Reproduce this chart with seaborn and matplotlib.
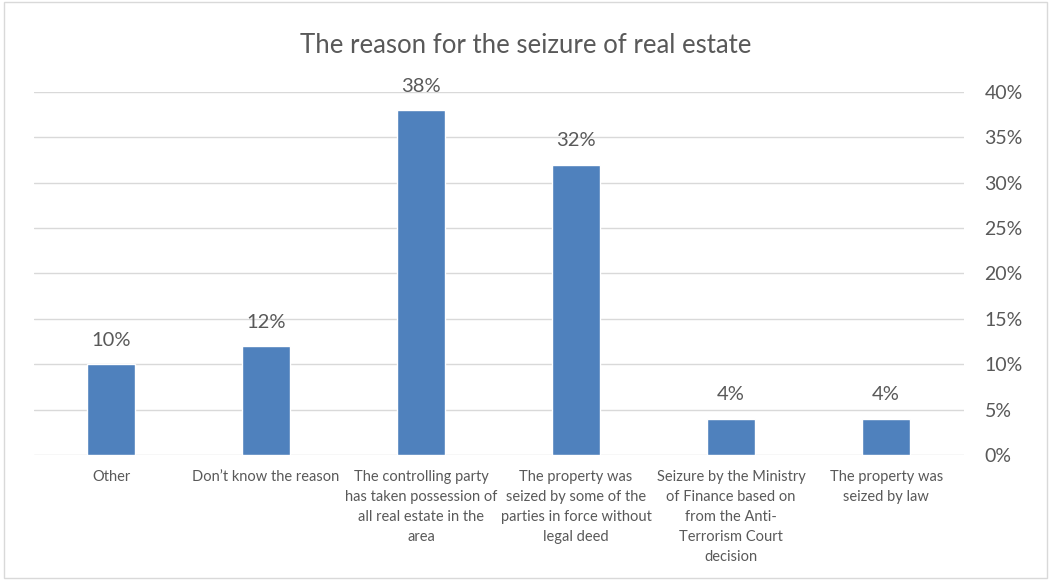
import matplotlib
matplotlib.use("Agg")
import matplotlib.pyplot as plt
import seaborn as sns
import pandas as pd
from matplotlib.patches import Rectangle

categories = [
    "Other",
    "Don\u2019t know the reason",
    "The controlling party\nhas taken possession of\nall real estate in the\narea",
    "The property was\nseized by some of the\nparties in force without\nlegal deed",
    "Seizure by the Ministry\nof Finance based on\nfrom the Anti-\nTerrorism Court\ndecision",
    "The property was\nseized by law",
]
values = [10, 12, 38, 32, 4, 4]
yticks = [0, 5, 10, 15, 20, 25, 30, 35, 40]
title = "The reason for the seizure of real estate"

df = pd.DataFrame({"category": categories, "value": values})

sns.set_theme(style="white")
plt.rcParams["font.family"] = ["Lato", "DejaVu Sans"]
text_color = "#595959"

fig = plt.figure(figsize=(10.51, 5.80), dpi=100)
ax = fig.add_axes([0.0319, 0.2155, 0.885, 0.626])

sns.barplot(data=df, x="category", y="value", color="#4F81BD",
            saturation=1, width=0.31, ax=ax, zorder=3)

ax.set_xlim(-0.5, len(categories) - 0.5)
ax.set_ylim(0, 40)
ax.set_yticks(yticks)
ax.set_yticklabels([f"{v}%" for v in yticks], fontsize=14, color=text_color)
ax.yaxis.tick_right()
ax.tick_params(axis="y", length=0, pad=15)
ax.tick_params(axis="x", length=0, pad=10.5)
ax.set_xticks(range(len(categories)))
ax.set_xticklabels(categories, fontsize=10.5, color=text_color,
                   linespacing=1.55, va="top")
ax.grid(axis="y", color="#d9d9d9", linewidth=1, zorder=0)
ax.set_xlabel("")
ax.set_ylabel("")
for s in ax.spines.values():
    s.set_visible(False)

for i, v in enumerate(values):
    ax.annotate(f"{v}%", (i, v), xytext=(0, 11), textcoords="offset points",
                ha="center", va="bottom", fontsize=14.5, color=text_color)

fig.text(0.5, 0.922, title, ha="center", va="center", fontsize=18.5,
         color=text_color)

fig.patches.append(Rectangle((0.004, 0.004), 0.992, 0.992,
                             transform=fig.transFigure, fill=False,
                             edgecolor="#d9d9d9", linewidth=1))

fig.savefig("out.png", dpi=100)
